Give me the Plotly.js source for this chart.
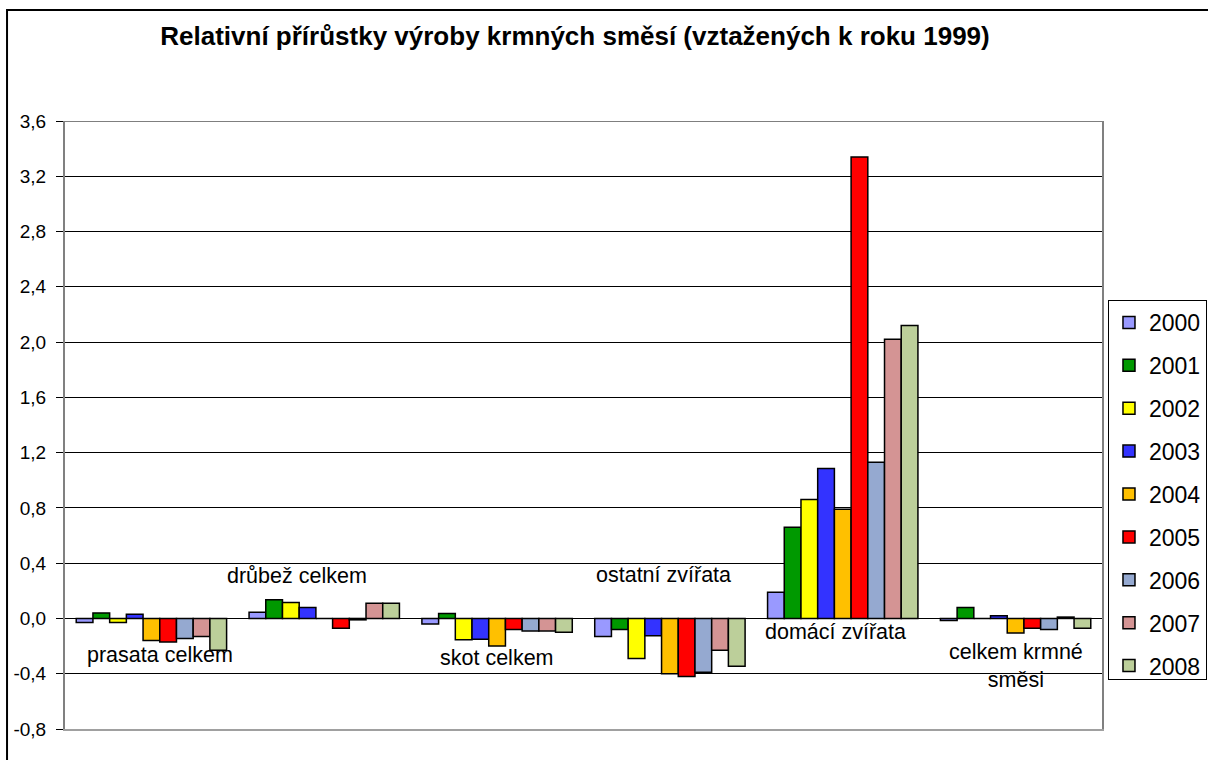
<!DOCTYPE html>
<html>
<head>
<meta charset="utf-8">
<script src="https://cdn.plot.ly/plotly-3.0.1.min.js"></script>
<style>html,body{margin:0;padding:0;background:#fff;}#chart{width:1208px;height:760px;}</style>
</head>
<body>
<div id="chart"></div>
<script>
const categories = ['prasata celkem','drůbež celkem','skot celkem','ostatní zvířata','domácí zvířata','celkem krmné směsi'];
const categoryLabels = ['prasata celkem','drůbež celkem','skot celkem','ostatní zvířata','domácí zvířata','celkem krmné<br>směsi'];
const years = ['2000','2001','2002','2003','2004','2005','2006','2007','2008'];
const v2000 = [-0.03, 0.045, -0.04, -0.13, 0.19, -0.015];
const v2001 = [0.04, 0.135, 0.035, -0.08, 0.66, 0.08];
const v2002 = [-0.03, 0.115, -0.155, -0.29, 0.86, 0.0];
const v2003 = [0.03, 0.08, -0.15, -0.125, 1.085, 0.02];
const v2004 = [-0.16, 0.0, -0.2, -0.40, 0.79, -0.105];
const v2005 = [-0.17, -0.07, -0.08, -0.42, 3.34, -0.07];
const v2006 = [-0.145, -0.01, -0.09, -0.39, 1.13, -0.08];
const v2007 = [-0.13, 0.11, -0.09, -0.23, 2.02, 0.01];
const v2008 = [-0.23, 0.11, -0.1, -0.345, 2.12, -0.07];
const yTickVals = [-0.8,-0.4,0,0.4,0.8,1.2,1.6,2.0,2.4,2.8,3.2,3.6];
const yTickText = ['-0,8','-0,4','0,0','0,4','0,8','1,2','1,6','2,0','2,4','2,8','3,2','3,6'];

const series = [v2000,v2001,v2002,v2003,v2004,v2005,v2006,v2007,v2008];
const colors = ['#9999FF','#009900','#FFFF00','#3333FF','#FFC000','#FF0000','#95A9D0','#D49494','#BCCF9A'];

const traces = years.map((yr,i)=>({
  type:'bar', name:yr, x:categories, y:series[i], legendgroup:yr,
  marker:{color:colors[i], line:{color:'#000', width:1.5}}
}));

// label placement (layout only)
const labelY = [-0.265, 0.31, -0.285, 0.314, -0.098, -0.345];
const labelShift = [9, -27, 0, -6, -7, 0];
const annotations = categories.map((c,i)=>({
  x:c, y:labelY[i], xref:'x', yref:'y', text:categoryLabels[i], showarrow:false,
  xshift:labelShift[i], font:{family:'Liberation Sans, Arial, sans-serif', size:21.5, color:'#000'}
}));

const layout = {
  width:1208, height:760,
  margin:{l:65, r:106, t:121, b:31},
  paper_bgcolor:'#fff', plot_bgcolor:'#fff',
  font:{family:'Liberation Sans, Arial, sans-serif', color:'#000'},
  title:{text:'<b>Relativní přírůstky výroby krmných směsí (vztažených k roku 1999)</b>',
    x:0.4918, xref:'paper', xanchor:'center', y:0.953, yref:'container', yanchor:'middle',
    font:{family:'Liberation Sans, Arial, sans-serif', size:26, color:'#000'}},
  barmode:'group', bargap:0.13, bargroupgap:0,
  xaxis:{type:'category', showticklabels:false, ticks:'', showgrid:false,
    showline:true, linecolor:'#a0a0a0', linewidth:2, zeroline:false, fixedrange:true},
  yaxis:{range:[-0.8,3.6], tickvals:yTickVals, ticktext:yTickText, ticks:'outside', ticklen:7, ticklabelstandoff:6,
    tickcolor:'#000', showgrid:true, gridcolor:'#000', gridwidth:1, zeroline:true, zerolinecolor:'#000', zerolinewidth:1,
    showline:true, linecolor:'#808080', linewidth:2, mirror:true,
    tickfont:{family:'Liberation Sans, Arial, sans-serif', size:19, color:'#000'}},
  legend:{xref:'container', yref:'container', x:0.9172, xanchor:'left', y:0.6053, yanchor:'top',
    bgcolor:'#fff', bordercolor:'#000', borderwidth:1,
    tracegroupgap:10, traceorder:'grouped',
    font:{family:'Liberation Sans, Arial, sans-serif', size:23, color:'#000'}},
  annotations:annotations,
  shapes:[
    {type:'line', xref:'paper', yref:'y', x0:0, x1:1, y0:3.6, y1:3.6, line:{color:'#000', width:1}},
    {type:'rect', xref:'paper', yref:'paper', x0:-0.0559, x1:1.2, y0:-0.08, y1:1.1826, line:{color:'#000', width:2}}
  ],
  showlegend:true
};

Plotly.newPlot('chart', traces, layout, {displayModeBar:false, staticPlot:true});
</script>
</body>
</html>
